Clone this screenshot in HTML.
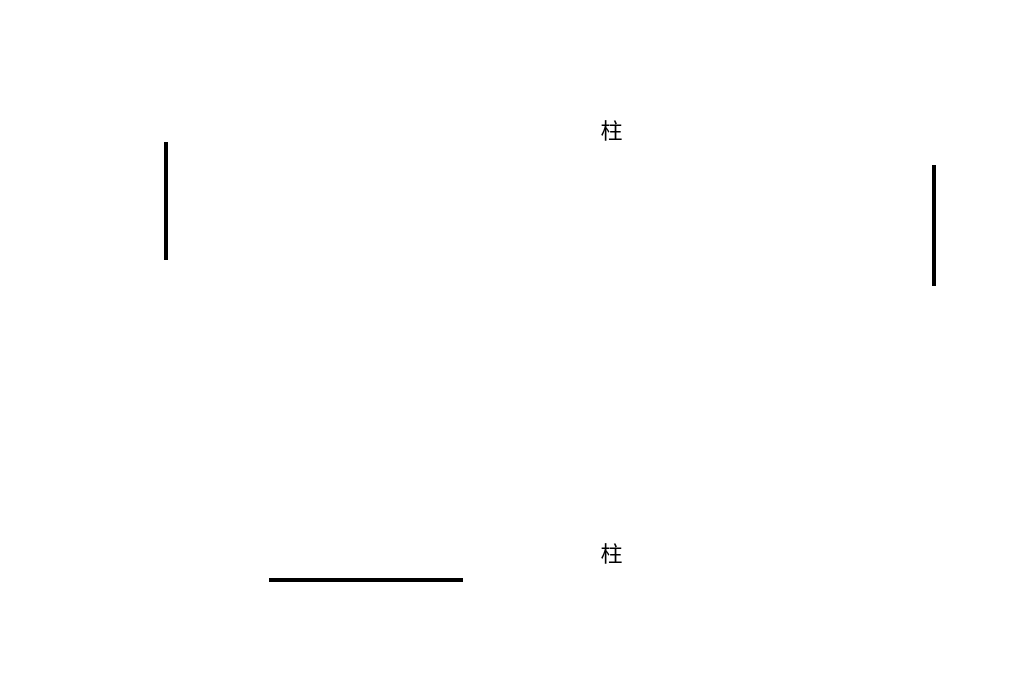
<!DOCTYPE html>
<html><head><meta charset="utf-8"><style>
html,body{margin:0;padding:0;background:#fff;width:1024px;height:677px;overflow:hidden}
</style></head><body>
<svg width="1024" height="677" xmlns="http://www.w3.org/2000/svg">
<rect width="1024" height="677" fill="#fff"/>
<rect x="164" y="142" width="4" height="118" fill="#000"/>
<rect x="932" y="165" width="4" height="121" fill="#000"/>
<rect x="269" y="578" width="194" height="4" fill="#000"/>
<text x="611.5" y="139" font-size="22" text-anchor="middle" font-family="'Noto Sans CJK SC', sans-serif">柱</text>
<text x="611.5" y="562" font-size="22" text-anchor="middle" font-family="'Noto Sans CJK SC', sans-serif">柱</text>
</svg>
</body></html>
